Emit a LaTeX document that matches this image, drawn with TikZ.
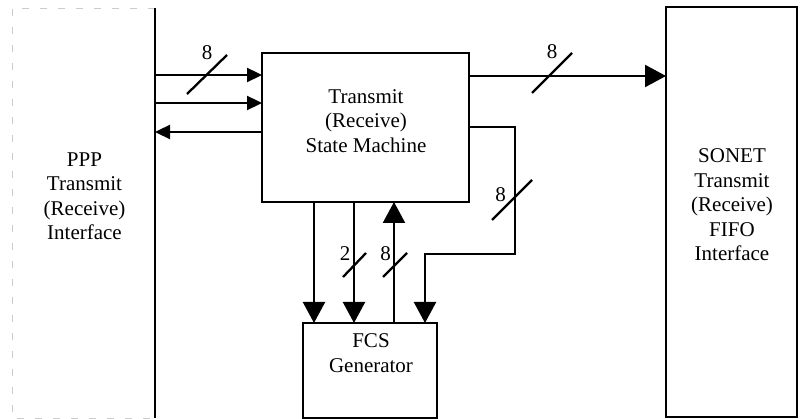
\documentclass[tikz,border=0pt]{standalone}
\usepackage{fontspec}
\setmainfont{Liberation Serif}
\usetikzlibrary{arrows.meta,calc}
\begin{document}
\begin{tikzpicture}[x=1pt,y=-1pt,
  box/.style={draw=black,line width=2pt,inner sep=0pt,outer sep=0pt},
  lbl/.style={align=center,font=\fontsize{21}{24.5}\selectfont,inner sep=0pt},
  conn/.style={line width=2.3pt},
  bigarr/.style={conn,-{Triangle[length=21pt,width=22pt]}},
  smallarr/.style={conn,-{Triangle[length=15pt,width=14pt]}},
  slashmark/.style={line width=2.3pt},
  ]
\useasboundingbox (0,0) rectangle (801,419);
\clip (0,0) rectangle (801,419);

% boxes
\node[inner sep=0pt,outer sep=0pt,minimum width=143pt,minimum height=410pt] (ppp) at (83.5,213) {};
\draw[gray!40,line width=0.8pt,dash pattern=on 7pt off 11pt] (ppp.north east) -- (ppp.north west) -- (ppp.south west) -- (ppp.south east);
\draw[line width=2.6pt] (ppp.north east) -- (ppp.south east);

\node[box,minimum width=207pt,minimum height=149pt] (sm) at (365.5,127.5) {};
\node[box,line width=1.8pt,minimum width=131pt,minimum height=410pt] (sonet) at (731.5,212) {};
\node[box,minimum width=134pt,minimum height=95pt] (fcs) at (370,370.5) {};

% texts
\node[lbl] (ppptxt) at (84.5,196) {PPP\\Transmit\\(Receive)\\Interface};
\node[lbl] (smtxt) at (366,121) {Transmit\\(Receive)\\State Machine};
\node[lbl] (sonettxt) at (732,205) {SONET\\Transmit\\(Receive)\\FIFO\\Interface};
\node[lbl] (fcstxt) at (371,353) {FCS\\Generator};

% connectors
\draw[smallarr] (ppp.east |- 0,75) -- (sm.west |- 0,75);
\draw[smallarr] (ppp.east |- 0,103) -- (sm.west |- 0,103);
\draw[smallarr] (sm.west |- 0,132) -- (ppp.east |- 0,132);
\draw[bigarr] (sm.east |- 0,76) -- (sonet.west |- 0,76);
\draw[bigarr] (sm.east |- 0,127) -| (515,254) -| (fcs.north -| 425,0);
\draw[bigarr] (sm.south -| 314,0) -- (fcs.north -| 314,0);
\draw[bigarr] (sm.south -| 354,0) -- (fcs.north -| 354,0);
\draw[bigarr] (fcs.north -| 394,0) -- (sm.south -| 394,0);

% bus-width marks
\draw[slashmark] (187,94) -- (227,55);
\node[lbl] (w1) at (207,52.5) {8};
\draw[slashmark] (532,93) -- (572,53);
\node[lbl] (w2) at (552,52) {8};
\draw[slashmark] (492,220) -- (532,180);
\node[lbl] (w3) at (500.5,195) {8};
\draw[slashmark] (343,277) -- (366,253);
\node[lbl] (w4) at (345,254) {2};
\draw[slashmark] (383,277) -- (407,253);
\node[lbl] (w5) at (385.5,254) {8};
\end{tikzpicture}
\end{document}
